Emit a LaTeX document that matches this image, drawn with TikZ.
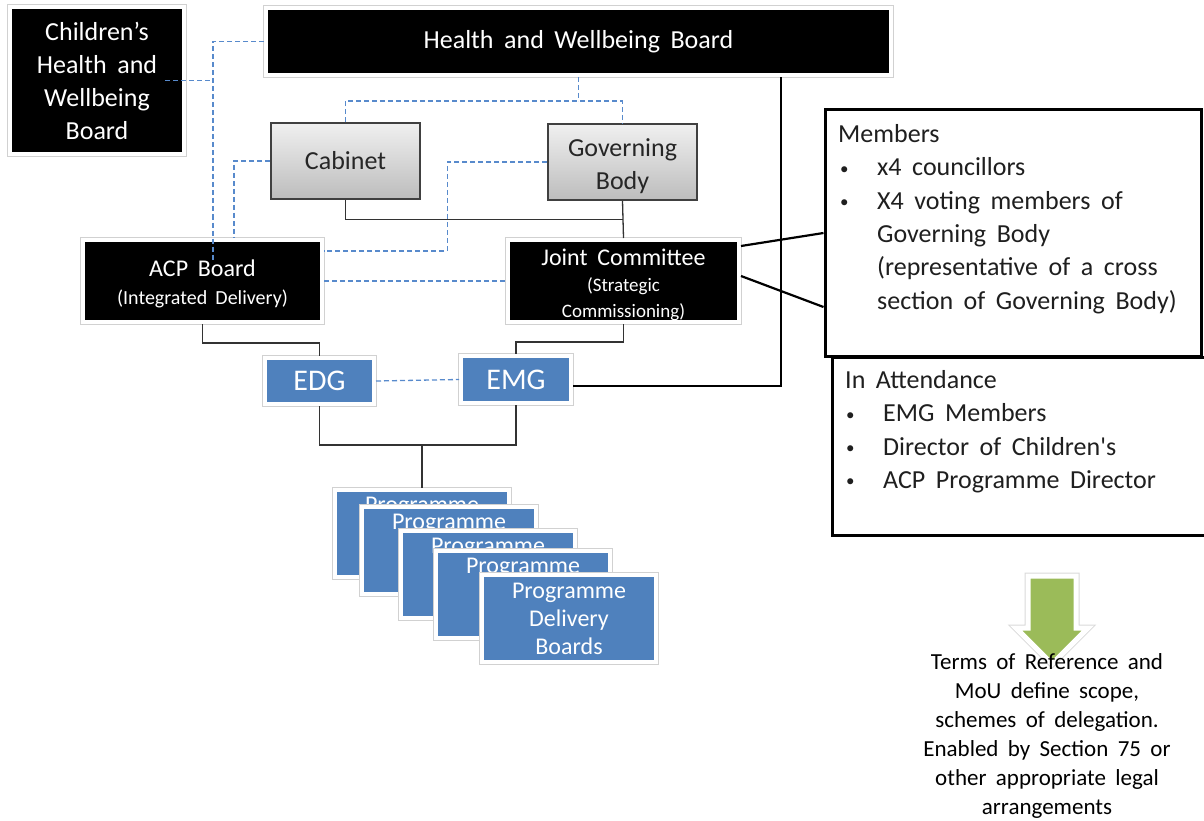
\documentclass[tikz,border=0pt]{standalone}
\usepackage{fontspec}
\setmainfont{Carlito}[WordSpace=1.8]
\usetikzlibrary{calc}

\definecolor{progblue}{RGB}{79,129,189}
\definecolor{linkblue}{RGB}{88,138,204}
\definecolor{arrowgreen}{RGB}{155,187,89}

\newcommand\boxtextfont{\fontsize{26}{33}\selectfont}
\newcommand\jcfont{\fontsize{24}{26}\selectfont}
\newcommand\jcsubfont{\fontsize{19}{26}\selectfont}
\newcommand\acpfont{\fontsize{24}{28}\selectfont}
\newcommand\acpsubfont{\fontsize{20}{28}\selectfont}
\newcommand\tagfont{\fontsize{30}{36}\selectfont}
\newcommand\progfont{\fontsize{24}{28}\selectfont}
\newcommand\listfont{\fontsize{26}{33.4}\selectfont}
\newcommand\notefont{\fontsize{23}{29}\selectfont}
\newcommand\listbullet[2]{\makebox[#1][l]{\hspace{#2}\raisebox{1.5pt}{\fontsize{17}{17}\selectfont\textbullet}}}
\newcommand\listindent[1]{\hspace*{#1}}

\tikzset{
  framebox/.style={draw=white, line width=4pt, preaction={draw=black!18, line width=6pt},
    inner sep=0pt, align=center, text=white},
  blackbox/.style={framebox, fill=black},
  bluebox/.style={framebox, fill=progblue},
  greybox/.style={draw=black!75, line width=1.6pt, top color=black!6, bottom color=black!26,
    inner sep=0pt, align=center, text=black!85, font=\boxtextfont},
  toptext/.style={text height=17pt, text depth=59pt},
  listbox/.style={draw=black, line width=3pt, fill=white, inner sep=0pt},
  listtext/.style={anchor=north west, align=left, inner sep=0pt, text=black!88, font=\listfont},
  notetext/.style={align=center, inner sep=0pt, text=black, font=\notefont},
  dashlink/.style={draw=linkblue, line width=1.3pt, dash pattern=on 5pt off 3pt},
  link/.style={draw=black!80, line width=1.3pt},
  heavylink/.style={draw=black, line width=2.2pt},
  bigarrow/.style={fill=arrowgreen, draw=white, line width=5pt, line join=miter,
    preaction={draw=black!15, line width=7pt}}
}

\begin{document}
\begin{tikzpicture}[x=1pt,y=1pt,yscale=-1,xscale=1]
\useasboundingbox (0,0) rectangle (1204,821);

%Boards
\node[blackbox, minimum width=174pt, minimum height=147pt, font=\boxtextfont] (chwb) at (97,80.5) {Children’s\\Health and\\Wellbeing\\Board};
\node[blackbox, minimum width=625pt, minimum height=67pt, font=\boxtextfont] (hwb) at (578.5,41.5) {Health and Wellbeing Board};
\node[greybox, minimum width=149pt, minimum height=76pt] (cabinet) at (345.5,161) {Cabinet};
\node[greybox, minimum width=149pt, minimum height=76pt] (govbody) at (622.5,162) {\rule{0pt}{26pt}Governing\\Body};
\node[blackbox, minimum width=239pt, minimum height=82pt, font=\acpfont] (acp) at (202.5,281) {\rule{0pt}{23pt}ACP Board\\\acpsubfont (Integrated Delivery)};
\node[blackbox, minimum width=231pt, minimum height=82pt, font=\jcfont] (jc) at (623.5,281) {\rule{0pt}{25pt}Joint Committee\\\jcsubfont (Strategic\\\jcsubfont Commissioning)};
\node[bluebox, minimum width=109pt, minimum height=46pt, font=\tagfont] (edg) at (319.5,381) {EDG};
\node[bluebox, minimum width=110pt, minimum height=47pt, font=\tagfont] (emg) at (516,379.5) {EMG};

%Programme stack
\node[bluebox, toptext, minimum width=174pt, minimum height=87pt, font=\progfont] (prog1) at (422,533.5) {Programme};
\node[bluebox, toptext, minimum width=174pt, minimum height=87pt, font=\progfont] (prog2) at (449,550.5) {Programme};
\node[bluebox, toptext, minimum width=174pt, minimum height=87pt, font=\progfont] (prog3) at (488,574.5) {Programme};
\node[bluebox, toptext, minimum width=174pt, minimum height=87pt, font=\progfont] (prog4) at (523,594.5) {Programme};
\node[bluebox, minimum width=174pt, minimum height=87pt, font=\progfont] (prog5) at (569,618.5) {Programme\\Delivery\\Boards};

%Membership lists
\node[listbox, minimum width=374pt, minimum height=178pt] (attend) at (1019,446) {};
\node[listbox, minimum width=376pt, minimum height=246pt] (members) at (1013,233) {};
\node[listtext] (memtext) at (838,124) {Members\\
\listbullet{39pt}{2pt}x4 councillors\\
\listbullet{39pt}{2pt}X4 voting members of\\
\listindent{39pt}Governing Body\\
\listindent{39pt}(representative of a cross\\
\listindent{39pt}section of Governing Body)};
\node[listtext] (attendtext) at (845,370) {In Attendance\\
\listbullet{38pt}{1pt}EMG Members\\
\listbullet{38pt}{1pt}Director of Children\textquotesingle s\\
\listbullet{38pt}{1pt}ACP Programme Director};

%Arrow and note
\draw[bigarrow] (1028,576) -- (1076,576) -- (1076,628) -- (1088,628) -- (1052,664) -- (1016,628) -- (1028,628) -- cycle;
\node[notetext] (note) at (1047,736) {Terms of Reference and\\MoU define scope,\\schemes of delegation.\\Enabled by Section 75 or\\other appropriate legal\\arrangements};

%Dashed links
\coordinate (acpin) at (213,262);
\coordinate (split) at ($(hwb.south)+(0,24)$);
\draw[dashlink] (hwb.west) -| (acpin);
\draw[dashlink] ($(chwb.east)+(-21,0)$) -- (chwb.east -| acpin);
\draw[dashlink] (hwb.south) -- (split);
\draw[dashlink] (cabinet.north) |- (split) -| (govbody.north);
\draw[dashlink] (cabinet.west) -| ($(acp.north)+(31.5,0)$);
\draw[dashlink] (govbody.west) -- ++(-100,0) |- ($(acp.east)+(0,-30)$);
\draw[dashlink] (acp.east) -- (jc.west);
\draw[dashlink] (edg.east) -- (emg.west);

%Solid links
\coordinate (join) at ($(prog1.north)+(0,-43)$);
\draw[link] (cabinet.south) |- ($(govbody.south)+(0,19)$);
\draw[link] (govbody.south) -- (jc.north);
\draw[link] (acp.south) -- ++(0,19) -| (edg.north);
\draw[link] (jc.south) -- ++(0,18) -| (emg.north);
\draw[link] (edg.south) |- (join) -| (emg.south);
\draw[link] (join) -- (prog1.north);
\draw[heavylink] ($(emg.east)+(0,6.5)$) -| ($(hwb.south)+(202.5,0)$);
\draw[heavylink] ($(jc.east)+(0,-35)$) -- (members.west);
\draw[heavylink] ($(jc.east)+(0,-5)$) -- ($(members.west)+(0,74)$);
\end{tikzpicture}
\end{document}
